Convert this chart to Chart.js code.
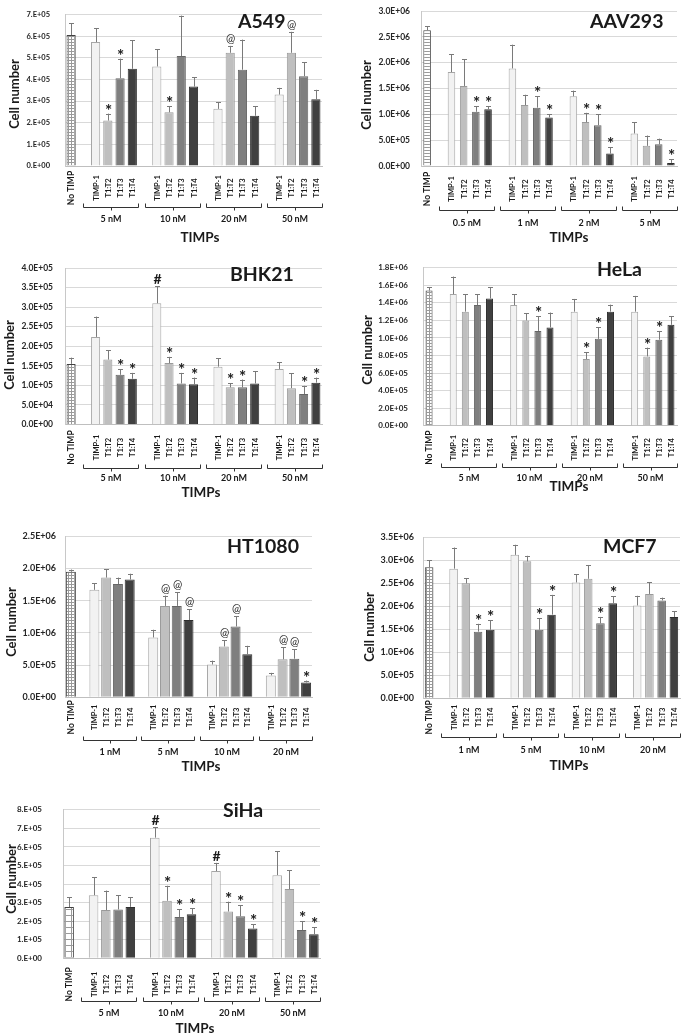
<!DOCTYPE html>
<html>
<head>
<meta charset="utf-8">
<script src="https://cdn.jsdelivr.net/npm/chart.js@4.4.1/dist/chart.umd.min.js"></script>
<style>
body { margin: 0; background: #fff; }
#wrap { position: relative; width: 687px; height: 1036px; overflow: hidden; background: #fff; }
#wrap canvas { position: absolute; }
</style>
</head>
<body>
<div id="wrap"></div>
<script>
// ---- data ----
const treatments = ['TIMP-1', 'T1:T2', 'T1:T3', 'T1:T4'];

// order: No TIMP, then 4 doses x (TIMP-1, T1:T2, T1:T3, T1:T4)
const a549Doses = ['5 nM', '10 nM', '20 nM', '50 nM'];
const a549Mean = [6.05e5, 5.73e5, 2.10e5, 4.05e5, 4.49e5, 4.60e5, 2.48e5, 5.08e5, 3.67e5, 2.64e5, 5.23e5, 4.45e5, 2.32e5, 3.30e5, 5.23e5, 4.15e5, 3.08e5];
const a549Err = [0.55e5, 0.64e5, 0.32e5, 0.91e5, 1.32e5, 0.80e5, 0.28e5, 1.87e5, 0.42e5, 0.31e5, 0.32e5, 1.39e5, 0.45e5, 0.31e5, 0.97e5, 0.64e5, 0.44e5];
const a549Marks = ['', '', '*', '*', '', '', '*', '', '', '', '@', '', '', '', '@', '', ''];
const a549Ticks = ['0.E+00', '1.E+05', '2.E+05', '3.E+05', '4.E+05', '5.E+05', '6.E+05', '7.E+05'];

const aavDoses = ['0.5 nM', '1 nM', '2 nM', '5 nM'];
const aavMean = [2.63e6, 1.82e6, 1.55e6, 1.05e6, 1.10e6, 1.89e6, 1.18e6, 1.13e6, 0.94e6, 1.35e6, 0.85e6, 0.79e6, 0.24e6, 0.63e6, 0.39e6, 0.42e6, 0.06e6];
const aavErr = [0.08e6, 0.34e6, 0.52e6, 0.11e6, 0.06e6, 0.46e6, 0.20e6, 0.22e6, 0.06e6, 0.11e6, 0.18e6, 0.21e6, 0.12e6, 0.22e6, 0.20e6, 0.11e6, 0.07e6];
const aavMarks = ['', '', '', '*', '*', '', '', '*', '*', '', '*', '*', '*', '', '', '', '*'];
const aavTicks = ['0.0E+00', '5.0E+05', '1.0E+06', '1.5E+06', '2.0E+06', '2.5E+06', '3.0E+06'];

const bhkDoses = ['5 nM', '10 nM', '20 nM', '50 nM'];
const bhkMean = [1.55e5, 2.24e5, 1.66e5, 1.27e5, 1.17e5, 3.10e5, 1.57e5, 1.05e5, 1.03e5, 1.48e5, 0.95e5, 0.95e5, 1.05e5, 1.42e5, 0.93e5, 0.78e5, 1.07e5];
const bhkErr = [0.16e5, 0.52e5, 0.24e5, 0.14e5, 0.15e5, 0.43e5, 0.16e5, 0.27e5, 0.17e5, 0.22e5, 0.10e5, 0.20e5, 0.31e5, 0.17e5, 0.38e5, 0.21e5, 0.13e5];
const bhkMarks = ['', '', '', '*', '*', '#', '*', '*', '*', '', '*', '*', '', '', '', '*', '*'];
const bhkTicks = ['0.0E+00', '5.0E+04', '1.0E+05', '1.5E+05', '2.0E+05', '2.5E+05', '3.0E+05', '3.5E+05', '4.0E+05'];

const helaDoses = ['5 nM', '10 nM', '20 nM', '50 nM'];
const helaMean = [1.54e6, 1.50e6, 1.30e6, 1.375e6, 1.45e6, 1.375e6, 1.20e6, 1.08e6, 1.12e6, 1.30e6, 0.76e6, 0.99e6, 1.30e6, 1.30e6, 0.79e6, 0.98e6, 1.15e6];
const helaErr = [0.04e6, 0.20e6, 0.20e6, 0.125e6, 0.13e6, 0.125e6, 0.08e6, 0.165e6, 0.17e6, 0.145e6, 0.08e6, 0.13e6, 0.08e6, 0.18e6, 0.10e6, 0.10e6, 0.10e6];
const helaMarks = ['', '', '', '', '', '', '', '*', '', '', '*', '*', '', '', '*', '*', ''];
const helaTicks = ['0.0E+00', '2.0E+05', '4.0E+05', '6.0E+05', '8.0E+05', '1.0E+06', '1.2E+06', '1.4E+06', '1.6E+06', '1.8E+06'];

const htDoses = ['1 nM', '5 nM', '10 nM', '20 nM'];
const htMean = [1.95e6, 1.67e6, 1.86e6, 1.76e6, 1.83e6, 0.93e6, 1.42e6, 1.42e6, 1.20e6, 0.51e6, 0.79e6, 1.10e6, 0.67e6, 0.34e6, 0.59e6, 0.60e6, 0.23e6];
const htErr = [0.035e6, 0.10e6, 0.13e6, 0.10e6, 0.09e6, 0.12e6, 0.16e6, 0.21e6, 0.17e6, 0.06e6, 0.10e6, 0.16e6, 0.13e6, 0.04e6, 0.19e6, 0.15e6, 0.03e6];
const htMarks = ['', '', '', '', '', '', '@', '@', '@', '', '@', '@', '', '', '@', '@', '*'];
const htTicks = ['0.0E+00', '5.0E+05', '1.0E+06', '1.5E+06', '2.0E+06', '2.5E+06'];

const mcfDoses = ['1 nM', '5 nM', '10 nM', '20 nM'];
const mcfMean = [2.85e6, 2.82e6, 2.50e6, 1.45e6, 1.49e6, 3.12e6, 2.98e6, 1.49e6, 1.82e6, 2.52e6, 2.60e6, 1.63e6, 2.07e6, 2.02e6, 2.27e6, 2.13e6, 1.77e6];
const mcfErr = [0.15e6, 0.46e6, 0.11e6, 0.17e6, 0.21e6, 0.22e6, 0.12e6, 0.25e6, 0.43e6, 0.18e6, 0.30e6, 0.14e6, 0.15e6, 0.21e6, 0.25e6, 0.06e6, 0.12e6];
const mcfMarks = ['', '', '', '*', '*', '', '', '*', '*', '', '', '*', '*', '', '', '', ''];
const mcfTicks = ['0.0E+00', '5.0E+05', '1.0E+06', '1.5E+06', '2.0E+06', '2.5E+06', '3.0E+06', '3.5E+06'];

const sihaDoses = ['5 nM', '10 nM', '20 nM', '50 nM'];
const sihaMean = [2.76e5, 3.40e5, 2.60e5, 2.63e5, 2.77e5, 6.50e5, 3.10e5, 2.22e5, 2.37e5, 4.70e5, 2.52e5, 2.26e5, 1.60e5, 4.48e5, 3.73e5, 1.52e5, 1.30e5];
const sihaErr = [0.54e5, 0.98e5, 1.05e5, 0.78e5, 0.53e5, 0.57e5, 0.81e5, 0.43e5, 0.32e5, 0.44e5, 0.53e5, 0.60e5, 0.24e5, 1.30e5, 1.02e5, 0.49e5, 0.38e5];
const sihaMarks = ['', '', '', '', '', '#', '*', '*', '*', '#', '*', '*', '*', '', '', '*', '*'];
const sihaTicks = ['0.E+00', '1.E+05', '2.E+05', '3.E+05', '4.E+05', '5.E+05', '6.E+05', '7.E+05', '8.E+05'];

// ---- styles ----
const FONT = 'Lato, "Liberation Sans", Arial, sans-serif';
const fills = ['#f2f2f2', '#bfbfbf', '#7f7f7f', '#404040'];
const edges = ['#a6a6a6', '#9a9a9a', '#666666', '#2e2e2e'];

function makePattern(kind, cell) {
  const c = document.createElement('canvas');
  const n = cell + 1;
  c.width = kind === 'hlines' ? 1 : n;
  c.height = n;
  const g = c.getContext('2d');
  g.fillStyle = '#ffffff';
  g.fillRect(0, 0, c.width, c.height);
  g.fillStyle = '#9a9a9a';
  g.fillRect(0, n - 1, c.width, 1);
  if (kind === 'grid') g.fillRect(n - 1, 0, 1, n);
  return document.createElement('canvas').getContext('2d').createPattern(c, 'repeat');
}

// slot layout: No TIMP, gap, 4 bars, gap, 4 bars ...
const slots = [0];
for (let g = 0; g < 4; g++) {
  slots.push(-1);
  for (let k = 0; k < 4; k++) slots.push(1 + g * 4 + k);
}

const decor = {
  id: 'decor',
  afterDatasetsDraw(chart, args, o) {
    const ctx = chart.ctx;
    const xs = chart.scales.x, ys = chart.scales.y;
    const meta = chart.getDatasetMeta(0);
    const b = chart.chartArea.bottom;
    const slotW = (xs.right - xs.left) / slots.length;
    const geo = o.geo;
    ctx.save();
    ctx.fillStyle = '#1a1a1a';
    slots.forEach((k, i) => {
      if (k < 0) return;
      const bar = meta.data[i];
      const x = Math.round(bar.x) + 0.5;
      const top = ys.getPixelForValue(o.mean[k] + o.err[k]);
      ctx.strokeStyle = '#7a7a7a';
      ctx.lineWidth = 1;
      ctx.beginPath();
      ctx.moveTo(x, bar.y);
      ctx.lineTo(x, top);
      ctx.moveTo(x - 2.5, Math.round(top) + 0.5);
      ctx.lineTo(x + 2.5, Math.round(top) + 0.5);
      ctx.stroke();
      const m = o.marks[k];
      if (m) {
        ctx.textAlign = 'center';
        ctx.textBaseline = 'alphabetic';
        if (m === '*') { ctx.font = 'bold 17px ' + FONT; ctx.fillText(m, x, top + 3); }
        else if (m === '@') { ctx.font = '11px ' + FONT; ctx.fillText(m, x, top - 4); }
        else { ctx.font = 'bold 14px ' + FONT; ctx.fillText(m, x, top - 2); }
      }
      // category label
      ctx.save();
      ctx.translate(x, b + geo.labOff);
      ctx.rotate(-Math.PI / 2);
      ctx.textAlign = 'center';
      ctx.textBaseline = 'middle';
      ctx.font = (k === 0 ? 'bold 8.5px ' : 'bold 7.5px ') + FONT;
      ctx.fillText(chart.data.labels[i], 0, 0);
      ctx.restore();
    });
    // brackets and dose labels
    ctx.strokeStyle = '#333';
    ctx.lineWidth = 1;
    o.doses.forEach((d, g) => {
      const xl = Math.round(xs.getPixelForValue(1 + g * 5)) + 0.5;
      const xr = Math.round(xs.getPixelForValue(5 + g * 5) + slotW / 2) + 0.5;
      const yb = Math.round(b + geo.brOff) + 0.5;
      const xm = Math.round((xl + xr) / 2) + 0.5;
      ctx.beginPath();
      ctx.moveTo(xl, yb - 4); ctx.lineTo(xl, yb); ctx.lineTo(xr, yb); ctx.lineTo(xr, yb - 4);
      ctx.moveTo(xm, yb); ctx.lineTo(xm, yb + 3);
      ctx.stroke();
      ctx.font = 'bold 9px ' + FONT;
      ctx.textAlign = 'center';
      ctx.textBaseline = 'middle';
      ctx.fillText(d, (xl + xr) / 2, b + geo.grOff);
    });
    // axis titles
    ctx.font = 'bold 13.5px ' + FONT;
    ctx.textAlign = 'center';
    ctx.textBaseline = 'middle';
    ctx.fillText('TIMPs', geo.xtX - geo.x0, b + geo.xtOff);
    ctx.save();
    ctx.translate(geo.yTitleX - geo.x0, geo.ytY - geo.y0);
    ctx.rotate(-Math.PI / 2);
    ctx.font = 'bold 13px ' + FONT;
    ctx.fillText('Cell number', 0, 0);
    ctx.restore();
    // panel name
    ctx.font = 'bold 19.5px ' + FONT;
    ctx.textAlign = 'left';
    ctx.fillText(o.name, geo.nameX - geo.x0, geo.nameY - geo.y0);
    ctx.restore();
  }
};

function panel(name, mean, err, marks, ticks, doses, max, step, geo) {
  geo.x0 = geo.col;
  geo.y0 = Math.floor(geo.t - 12);
  const Hx = geo.xtOff + 10;
  const h = Math.ceil(geo.b - geo.y0 + Hx + 4);
  const padR = geo.x0 + geo.w - geo.r;
  const padT = geo.t - geo.y0;
  const padB = h - Hx - (geo.b - geo.y0);
  const Wy = geo.l - geo.x0;

  const cv = document.createElement('canvas');
  cv.width = geo.w; cv.height = h;
  cv.style.left = geo.x0 + 'px'; cv.style.top = geo.y0 + 'px';
  document.getElementById('wrap').appendChild(cv);

  const pat = makePattern(geo.pattern, geo.cell);
  const labels = slots.map(k => k < 0 ? '' : (k === 0 ? 'No TIMP' : treatments[(k - 1) % 4]));
  const data = slots.map(k => k < 0 ? null : mean[k]);
  const bg = slots.map(k => k < 0 ? 'rgba(0,0,0,0)' : (k === 0 ? pat : fills[(k - 1) % 4]));
  const bc = slots.map(k => k < 0 ? 'rgba(0,0,0,0)' : (k === 0 ? '#404040' : edges[(k - 1) % 4]));

  new Chart(cv, {
    type: 'bar',
    data: {
      labels: labels,
      datasets: [{ data: data, backgroundColor: bg, borderColor: bc, borderWidth: 1,
        barPercentage: geo.barPct, categoryPercentage: 1 }]
    },
    options: {
      responsive: false,
      animation: false,
      layout: { padding: { left: 0, right: padR, top: padT, bottom: padB } },
      plugins: {
        legend: { display: false },
        tooltip: { enabled: false },
        decor: { name, mean, err, marks, doses, geo }
      },
      scales: {
        x: {
          ticks: { display: false },
          grid: { display: false },
          border: { display: true, color: '#bfbfbf' },
          afterFit(s) { s.height = Hx; }
        },
        y: {
          min: 0, max: max,
          ticks: { stepSize: step, padding: geo.l - geo.tickRight, color: '#262626',
            font: { family: FONT, size: geo.tickSize, weight: 'bold' },
            callback: (v, i) => ticks[i] },
          grid: { color: '#d9d9d9', drawTicks: false },
          border: { display: true, color: '#c8c8c8' },
          afterFit(s) { s.width = Wy; }
        }
      }
    },
    plugins: [decor]
  });
}

panel('A549', a549Mean, a549Err, a549Marks, a549Ticks, a549Doses, 7e5, 1e5,
  { col: 0, w: 340, l: 65, r: 322, t: 7, b: 166, yTitleX: 15, ytY: 94, tickRight: 50, tickSize: 7.5, labOff: 22, brOff: 41, grOff: 53, xtOff: 72, xtX: 200,
    nameX: 238, nameY: 22, barPct: 0.75, pattern: 'grid', cell: 2 });
panel('AAV293', aavMean, aavErr, aavMarks, aavTicks, aavDoses, 3e6, 5e5,
  { col: 340, w: 347, l: 421, r: 677, t: 7, b: 166, yTitleX: 367, ytY: 95, tickRight: 410, tickSize: 8.5, labOff: 23, brOff: 44, grOff: 57, xtOff: 72, xtX: 569,
    nameX: 590, nameY: 22, barPct: 0.62, pattern: 'hlines', cell: 2 });
panel('BHK21', bhkMean, bhkErr, bhkMarks, bhkTicks, bhkDoses, 4e5, 5e4,
  { col: 0, w: 340, l: 65, r: 322, t: 263.5, b: 424.5, yTitleX: 10, ytY: 355, tickRight: 53, tickSize: 8.5, labOff: 23, brOff: 43, grOff: 54, xtOff: 68, xtX: 201,
    nameX: 230, nameY: 275, barPct: 0.74, pattern: 'grid', cell: 2 });
panel('HeLa', helaMean, helaErr, helaMarks, helaTicks, helaDoses, 1.8e6, 2e5,
  { col: 340, w: 347, l: 423, r: 677, t: 260, b: 425.7, yTitleX: 368, ytY: 350, tickRight: 408, tickSize: 8, labOff: 22, brOff: 41, grOff: 52, xtOff: 61, xtX: 569,
    nameX: 597, nameY: 270, barPct: 0.58, pattern: 'grid', cell: 2 });
panel('HT1080', htMean, htErr, htMarks, htTicks, htDoses, 2.5e6, 5e5,
  { col: 0, w: 340, l: 65, r: 312, t: 534, b: 697.3, yTitleX: 12, ytY: 622, tickRight: 56, tickSize: 9, labOff: 20, brOff: 43, grOff: 55, xtOff: 69, xtX: 201,
    nameX: 227, nameY: 547, barPct: 0.85, pattern: 'grid', cell: 2 });
panel('MCF7', mcfMean, mcfErr, mcfMarks, mcfTicks, mcfDoses, 3.5e6, 5e5,
  { col: 340, w: 347, l: 423, r: 680, t: 535.7, b: 698.3, yTitleX: 370, ytY: 627, tickRight: 414, tickSize: 9, labOff: 19, brOff: 39, grOff: 52, xtOff: 67, xtX: 569,
    nameX: 603, nameY: 547, barPct: 0.7, pattern: 'grid', cell: 2 });
panel('SiHa', sihaMean, sihaErr, sihaMarks, sihaTicks, sihaDoses, 8e5, 1e5,
  { col: 0, w: 340, l: 63, r: 320, t: 796.7, b: 958.3, yTitleX: 12, ytY: 879, tickRight: 42, tickSize: 8, labOff: 26, brOff: 43, grOff: 55, xtOff: 70, xtX: 195,
    nameX: 223, nameY: 811, barPct: 0.78, pattern: 'grid', cell: 5 });
</script>
</body>
</html>
